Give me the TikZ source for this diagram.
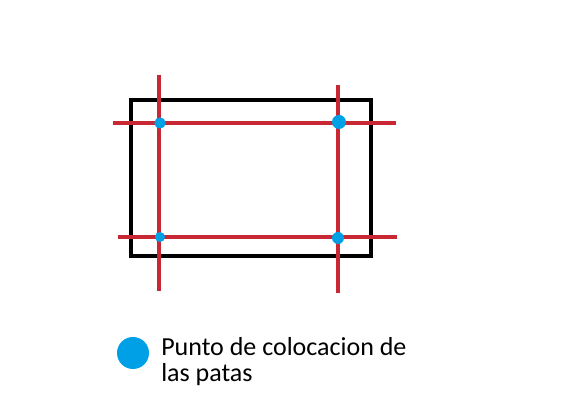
\documentclass[tikz,border=0pt]{standalone}
\usepackage{fontspec}
\setmainfont{Carlito}
\usepackage{tikz}
\usetikzlibrary{positioning}

\definecolor{linered}{RGB}{200,40,52}
\definecolor{dotblue}{RGB}{0,160,230}

\tikzset{
  guide/.style={draw=linered, line width=2.5pt},
  frame/.style={draw=black, line width=2.4pt},
  leg/.style={circle, fill=dotblue, inner sep=0pt, minimum size=#1}
}

\begin{document}
\begin{tikzpicture}[x=0.75pt,y=-0.75pt]
      \useasboundingbox (0,0) rectangle (562,402);

      % tablero
      \draw[frame] (131,100) rectangle (371,256);

      % lineas guia
      \coordinate (v1a) at (159,75);  \coordinate (v1b) at (159,291);
      \coordinate (v2a) at (338,85);  \coordinate (v2b) at (338,293);
      \coordinate (h1a) at (113,123); \coordinate (h1b) at (396,123);
      \coordinate (h2a) at (118,237); \coordinate (h2b) at (397,237);
      \draw[guide] (v1a) -- (v1b);
      \draw[guide] (v2a) -- (v2b);
      \draw[guide] (h1a) -- (h1b);
      \draw[guide] (h2a) -- (h2b);

      % patas
      \node[leg=8.5pt]  (p1) at (160,123) {};
      \node[leg=10.5pt] (p2) at (339,122) {};
      \node[leg=7.5pt]  (p3) at (160,237) {};
      \node[leg=9pt]    (p4) at (338,238) {};

      % leyenda
      \node[leg=24pt] (ldot) at (133,353) {};
      \node[anchor=base west, inner sep=0pt, align=left,
            font=\fontsize{19.5}{19.5}\selectfont] (ltext) at (161,382)
            {Punto de colocacion de\\las patas};
\end{tikzpicture}
\end{document}
